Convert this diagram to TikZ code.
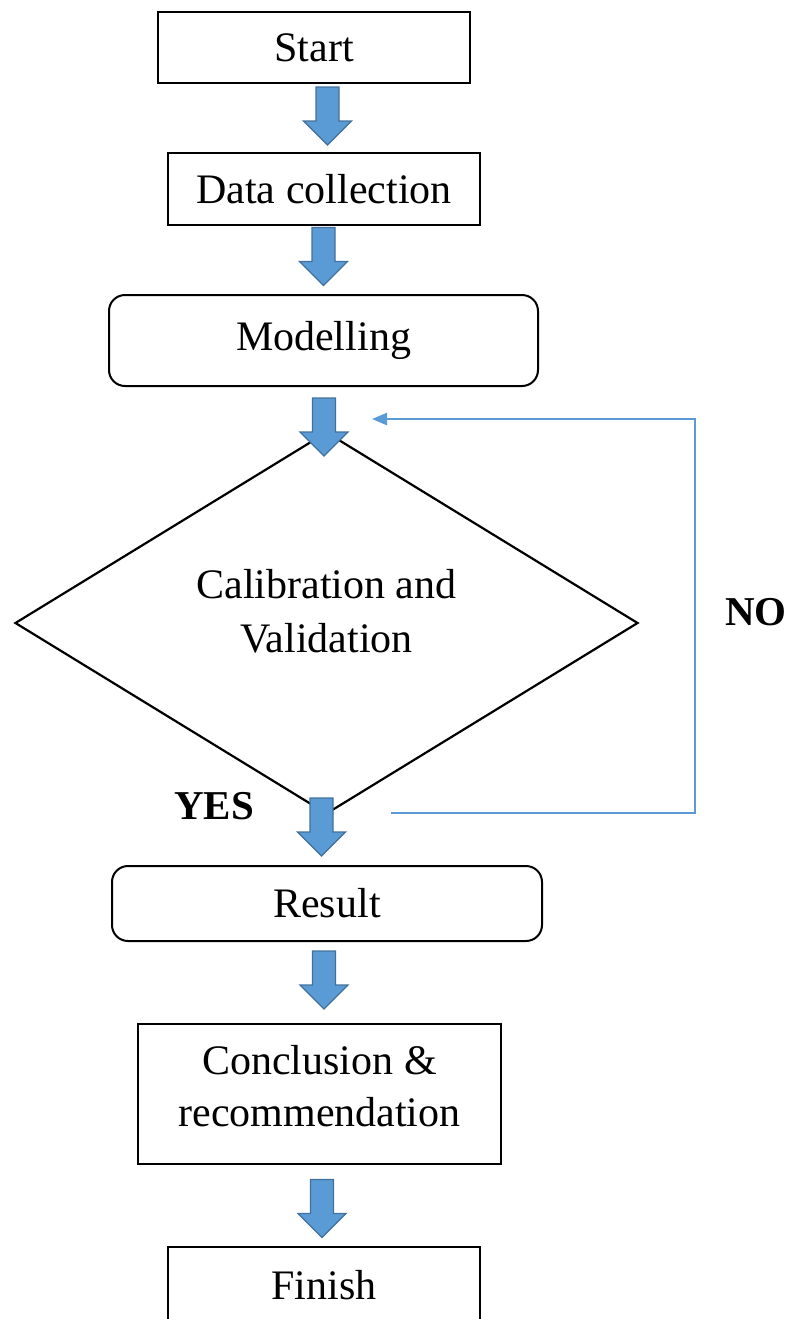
\documentclass[tikz,border=0pt]{standalone}
\usepackage{fontspec}
\setmainfont{Liberation Serif}
\usetikzlibrary{shapes.geometric,arrows.meta}
\definecolor{arrowfill}{HTML}{5B9BD5}
\definecolor{arrowedge}{HTML}{41719C}
\begin{document}
\begin{tikzpicture}[x=0.5pt,y=-0.5pt]
        \tikzset{
            boxnode/.style={rectangle,draw=black,line width=1pt,font=\fontsize{21}{26}\selectfont,align=center},
            roundnode/.style={boxnode,rounded corners=8pt},
            decnode/.style={diamond,draw=black,line width=1pt,minimum width=311.5pt,minimum height=191pt,inner sep=0pt},
            answer/.style={font=\fontsize{20.5}{24}\selectfont\bfseries},
            loopline/.style={draw=arrowfill,line width=1.2pt,-{Triangle[length=7.5pt,width=6pt]}},
            downarrow/.pic={
                \draw[draw=arrowedge,fill=arrowfill,line width=0.6pt]
                    (-11.5,-29) -- (11.5,-29) -- (11.5,5) -- (24,5) -- (0,29) -- (-24,5) -- (-11.5,5) -- cycle;
            },
        }
        \path[use as bounding box,clip] (0,0) rectangle (798,1319);

        \node[boxnode,minimum width=156pt,minimum height=35.5pt] (start) at (314,47.5) {Start};
        \node[boxnode,minimum width=156pt,minimum height=36pt] (data) at (324,189) {Data collection};
        \node[roundnode,minimum width=214.5pt,minimum height=45.5pt] (model) at (323.5,340.5) {Modelling};
        \node[decnode,line width=1.1pt] (calib) at (326.5,623) {};
        \node[boxnode,draw=none,font=\fontsize{21}{27}\selectfont] (calibtxt) at ([yshift=6pt]calib.center) {Calibration and\\Validation};
        \node[roundnode,minimum width=215pt,minimum height=37.5pt] (result) at (327,903.5) {Result};
        \node[boxnode,minimum width=181.5pt,minimum height=70pt] (concl) at (319.5,1094) {};
        \node[boxnode,draw=none] (concltxt) at ([yshift=4pt]concl.center) {Conclusion \&\\recommendation};
        \node[boxnode,minimum width=156pt,minimum height=38pt] (finish) at (324,1285) {Finish};

        \pic at (327.5,116) {downarrow};
        \pic at (323.5,256.5) {downarrow};
        \pic at (324,427) {downarrow};
        \pic at (321.5,827) {downarrow};
        \pic at (324,980) {downarrow};
        \pic at (322,1208.5) {downarrow};

        \node[answer] (yes) at (214,806) {YES};
        \node[answer] (no) at (756,612) {NO};

        \coordinate (nostart) at (391,813);
        \coordinate (nocorner) at (695,419);
        \coordinate (noend) at (372,419);
        \draw[loopline] (nostart) -| (nocorner) -- (noend);
\end{tikzpicture}
\end{document}
